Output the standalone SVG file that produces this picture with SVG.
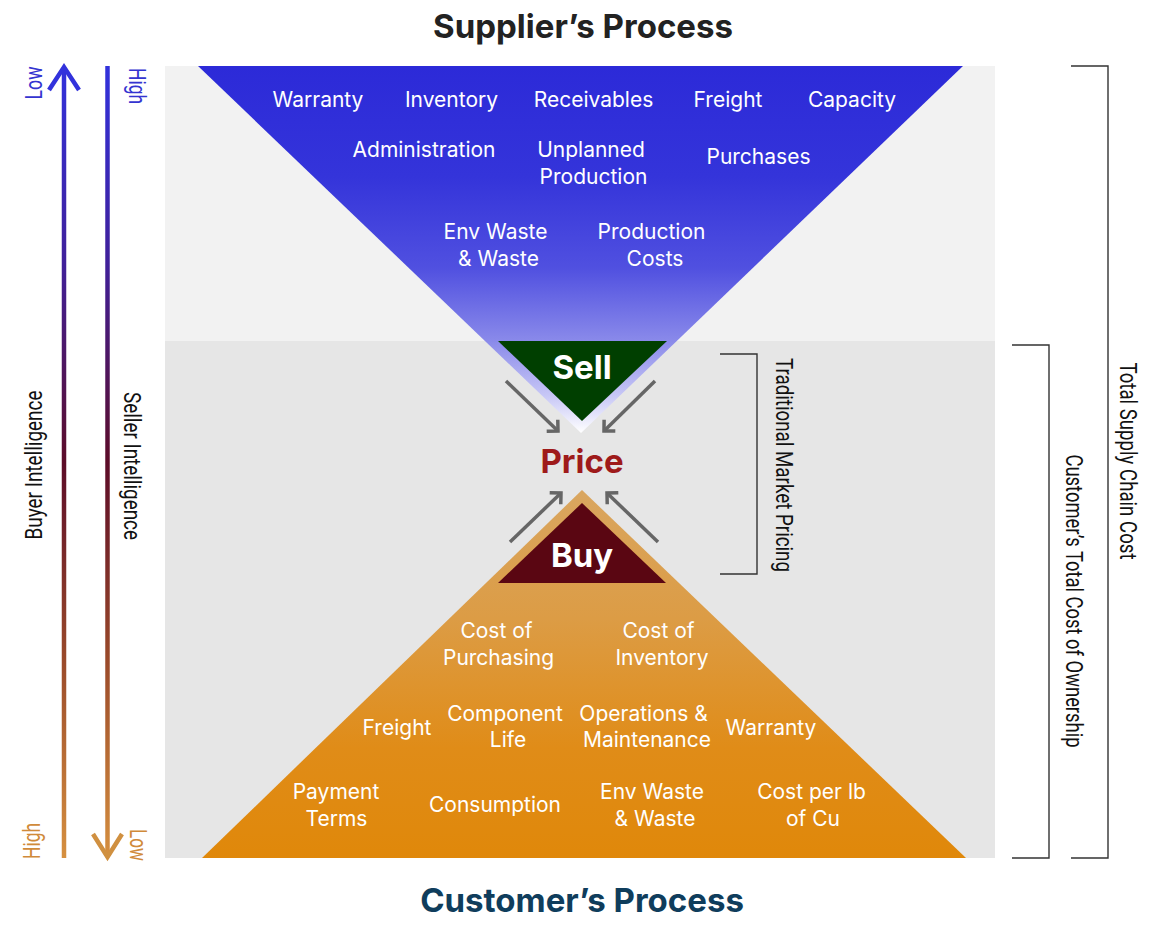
<svg xmlns="http://www.w3.org/2000/svg" width="1169" height="935" viewBox="0 0 1169 935">
<style>
.item{font-family:Inter,"Noto Sans","Liberation Sans",sans-serif;font-size:21px;fill:#ffffff;text-anchor:middle}
.title{font-family:Inter,"Noto Sans","Liberation Sans",sans-serif;font-size:33px;font-weight:700;text-anchor:middle}
.big{font-family:Inter,"Noto Sans","Liberation Sans",sans-serif;font-size:33px;font-weight:700;text-anchor:middle}
.side{font-family:Roboto,"Liberation Sans",sans-serif;font-size:24px;fill:#111111;text-anchor:middle}
.scale{font-family:Roboto,"Liberation Sans",sans-serif;font-size:23px;text-anchor:middle}
.bracket{fill:none;stroke:#333333;stroke-width:1.4}
.conn{stroke:#666666;stroke-width:3.5;fill:none;marker-end:url(#chev)}
</style>
<defs>
<linearGradient id="blueGrad" gradientUnits="userSpaceOnUse" x1="0" y1="66" x2="0" y2="433">
<stop offset="0" stop-color="#2c2ad8"/>
<stop offset="0.3" stop-color="#3434da"/>
<stop offset="0.55" stop-color="#5050e0"/>
<stop offset="0.75" stop-color="#8a8aea"/>
<stop offset="0.9" stop-color="#c8c8f6"/>
<stop offset="1" stop-color="#ffffff"/>
</linearGradient>
<linearGradient id="orangeGrad" gradientUnits="userSpaceOnUse" x1="0" y1="490" x2="0" y2="858">
<stop offset="0" stop-color="#d9a660"/>
<stop offset="0.35" stop-color="#dc9c45"/>
<stop offset="0.7" stop-color="#e08c18"/>
<stop offset="1" stop-color="#e0880a"/>
</linearGradient>
<linearGradient id="intelGrad" gradientUnits="userSpaceOnUse" x1="0" y1="66" x2="0" y2="858">
<stop offset="0" stop-color="#3232dc"/>
<stop offset="0.25" stop-color="#40209a"/>
<stop offset="0.5" stop-color="#5c0c28"/>
<stop offset="0.75" stop-color="#9a4a2a"/>
<stop offset="1" stop-color="#d69040"/>
</linearGradient>
<marker id="chev" markerUnits="userSpaceOnUse" markerWidth="22" markerHeight="22" viewBox="-11 -11 22 22" refX="0" refY="0" orient="auto">
<path d="M-8,-8 L0,0 L-8,8" fill="none" stroke="#666666" stroke-width="3.5"/>
</marker>
</defs>

<rect x="0" y="0" width="1169" height="935" fill="#ffffff"/>

<g id="panels">
<rect x="165" y="66" width="830" height="275" fill="#f2f2f2"/>
<rect x="165" y="341" width="830" height="517" fill="#e6e6e6"/>
</g>

<g id="supplier-process">
<polygon points="198,66 963,66 581,433" fill="url(#blueGrad)"/>
<text class="item" x="318" y="107">Warranty</text>
<text class="item" x="451.5" y="107">Inventory</text>
<text class="item" x="593.5" y="107">Receivables</text>
<text class="item" x="728" y="107">Freight</text>
<text class="item" x="852" y="107">Capacity</text>
<text class="item" x="424" y="157">Administration</text>
<text class="item" y="157"><tspan x="591">Unplanned</tspan><tspan x="593.5" y="184">Production</tspan></text>
<text class="item" x="758.5" y="164">Purchases</text>
<text class="item" y="239"><tspan x="495.5">Env Waste</tspan><tspan x="498.5" y="266">&amp; Waste</tspan></text>
<text class="item" y="239"><tspan x="651.5">Production</tspan><tspan x="655" y="266">Costs</tspan></text>
</g>

<g id="customer-process">
<polygon points="202,858 582,490 966,858" fill="url(#orangeGrad)"/>
<text class="item" y="638"><tspan x="496.5">Cost of</tspan><tspan x="498.5" y="665">Purchasing</tspan></text>
<text class="item" y="638"><tspan x="658.5">Cost of</tspan><tspan x="662" y="665">Inventory</tspan></text>
<text class="item" x="397" y="735">Freight</text>
<text class="item" y="721"><tspan x="505">Component</tspan><tspan x="508" y="747">Life</tspan></text>
<text class="item" y="721"><tspan x="643.5">Operations &amp;</tspan><tspan x="647" y="747">Maintenance</tspan></text>
<text class="item" x="771" y="735">Warranty</text>
<text class="item" y="799"><tspan x="336">Payment</tspan><tspan x="336.5" y="826">Terms</tspan></text>
<text class="item" x="495" y="812">Consumption</text>
<text class="item" y="799"><tspan x="652">Env Waste</tspan><tspan x="655" y="826">&amp; Waste</tspan></text>
<text class="item" y="799"><tspan x="811.5">Cost per lb</tspan><tspan x="813" y="826">of Cu</tspan></text>
</g>

<g id="sell">
<polygon points="498,341 667,341 582,421" fill="#003f00"/>
<text class="big" x="582" y="379" fill="#ffffff">Sell</text>
</g>

<g id="buy">
<polygon points="582,503 498,583 666,583" fill="#5a0612"/>
<text class="big" x="582" y="567" fill="#ffffff">Buy</text>
</g>

<g id="price">
<text class="big" x="582" y="473" fill="#9e1a1a">Price</text>
</g>

<g id="connectors">
<line class="conn" x1="506" y1="381" x2="558" y2="431"/>
<line class="conn" x1="655" y1="381" x2="604" y2="431"/>
<line class="conn" x1="510" y1="542" x2="561" y2="493"/>
<line class="conn" x1="658" y1="542" x2="607" y2="493"/>
</g>

<g id="buyer-intelligence">
<line x1="64" y1="858" x2="64" y2="68" stroke="url(#intelGrad)" stroke-width="4.5"/>
<path d="M49,90 L64,67 L79,90" fill="none" stroke="#3232dc" stroke-width="4.5"/>
<text class="scale" fill="#3434d0" transform="translate(42,83) rotate(-90)" textLength="33" lengthAdjust="spacingAndGlyphs">Low</text>
<text class="scale" fill="#d08a3a" transform="translate(40,841) rotate(-90)" textLength="36" lengthAdjust="spacingAndGlyphs">High</text>
<text class="side" transform="translate(42,465) rotate(-90)" textLength="149" lengthAdjust="spacingAndGlyphs">Buyer Intelligence</text>
</g>

<g id="seller-intelligence">
<line x1="107.5" y1="66" x2="107.5" y2="856" stroke="url(#intelGrad)" stroke-width="4.5"/>
<path d="M93,834 L107.5,857 L122,834" fill="none" stroke="#d09040" stroke-width="4.5"/>
<text class="scale" fill="#3434d0" transform="translate(129,86) rotate(90)" textLength="36" lengthAdjust="spacingAndGlyphs">High</text>
<text class="scale" fill="#d08a3a" transform="translate(130,845) rotate(90)" textLength="32" lengthAdjust="spacingAndGlyphs">Low</text>
<text class="side" transform="translate(124,466) rotate(90)" textLength="148" lengthAdjust="spacingAndGlyphs">Seller Intelligence</text>
</g>

<g id="traditional-market-pricing">
<path class="bracket" d="M720,354 H757 V574 H720"/>
<text class="side" transform="translate(776,465) rotate(90)" textLength="214" lengthAdjust="spacingAndGlyphs">Traditional Market Pricing</text>
</g>

<g id="customers-total-cost">
<path class="bracket" d="M1012,345 H1049 V858 H1012"/>
<text class="side" transform="translate(1066,601) rotate(90)" textLength="293" lengthAdjust="spacingAndGlyphs">Customer’s Total Cost of Ownership</text>
</g>

<g id="total-supply-chain-cost">
<path class="bracket" d="M1071,66 H1108 V858 H1071"/>
<text class="side" transform="translate(1120,461) rotate(90)" textLength="197" lengthAdjust="spacingAndGlyphs">Total Supply Chain Cost</text>
</g>

<g id="titles">
<text class="title" x="583" y="38" fill="#222222">Supplier’s Process</text>
<text class="title" x="582" y="912" fill="#0f3d5c">Customer’s Process</text>
</g>
</svg>
